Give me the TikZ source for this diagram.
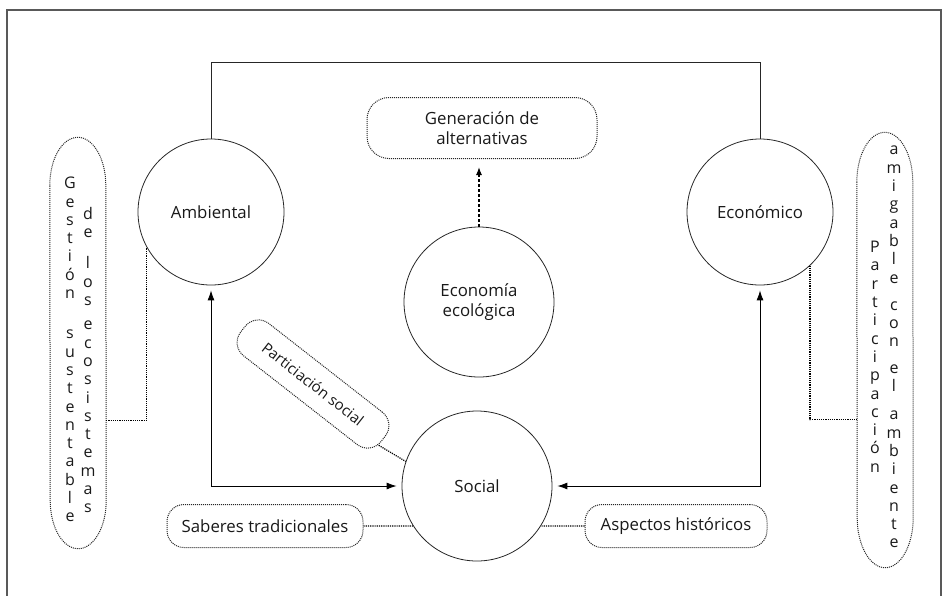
\documentclass[tikz,border=0pt]{standalone}
\usepackage{fontspec}
\setmainfont{Open Sans}
\usetikzlibrary{arrows.meta,shapes.geometric}

\tikzset{
  bubble/.style={circle, draw=black!85, line width=0.8pt, minimum size=146pt, inner sep=0pt, align=center},
  note/.style={draw=black!85, densely dotted, line width=1pt, rounded corners=17pt, inner sep=0pt, align=center},
  tallnote/.style={rectangle, inner sep=0pt, minimum width=56pt},
  outline/.style={draw=black!85, densely dotted, line width=1pt},
  letters/.style={align=center, inner sep=0pt, font=\fontsize{16}{18.3}\selectfont},
  link/.style={densely dotted, line width=1.2pt},
  flow/.style={line width=0.9pt, {Latex[length=10pt,width=7pt]}-{Latex[length=10pt,width=7pt]}, shorten <=5pt, shorten >=5pt},
}

\begin{document}
\begin{tikzpicture}[x=1pt, y=-1pt, font=\fontsize{16.8}{20}\selectfont, text=black!90]
  \useasboundingbox (0,0) rectangle (949,595);
  \draw[black!65, line width=1.3pt] (7,600) -- (7,10) -- (941,10) -- (941,600);

  % circles
  \node[bubble] (amb) at (211,212) {Ambiental};
  \node[bubble] (econ) at (760,212) {Económico};
  \node[bubble, minimum size=150pt] (ecol) at (479,302) {Economía\\ecológica};
  \node[bubble, minimum size=150pt] (soc) at (477,486) {Social};

  % dotted notes
  \node[note, minimum width=230pt, minimum height=61pt, rounded corners=22pt] (gen) at (482,128) {Generación de\\alternativas};
  \node[note, minimum width=196pt, minimum height=43pt] (sab) at (265,526) {Saberes tradicionales};
  \node[note, minimum width=182pt, minimum height=43pt] (asp) at (676,526) {Aspectos históricos};
  \node[note, minimum width=178pt, minimum height=41pt, rotate=-38, font=\fontsize{15}{18}\selectfont] (part) at (313,384) {Particiación social};

  % tall notes, letters stacked
  \node[tallnote, minimum height=411pt] (gest) at (78,343) {};
  \node[tallnote, minimum height=435pt] (amig) at (885,350) {};
  \draw[outline] ([yshift=-48pt]gest.north west) arc[x radius=28pt, y radius=48pt, start angle=180, end angle=0]
    -- ([yshift=48pt]gest.south east) arc[x radius=28pt, y radius=48pt, start angle=0, end angle=-180] -- cycle;
  \draw[outline] ([yshift=-50pt]amig.north west) arc[x radius=28pt, y radius=50pt, start angle=180, end angle=0]
    -- ([yshift=50pt]amig.south east) arc[x radius=28pt, y radius=50pt, start angle=0, end angle=-180] -- cycle;
  \node[letters, anchor=north] (gest1) at (70,177) {G\\e\\s\\t\\i\\ó\\n\\[22pt]s\\u\\s\\t\\e\\n\\t\\a\\b\\l\\e};
  \node[letters, anchor=north] (gest2) at (88,207) {d\\e\\[13pt]l\\o\\s\\[6pt]e\\c\\o\\s\\i\\s\\t\\e\\m\\a\\s};
  \node[letters, anchor=north] (amig1) at (875,241) {P\\a\\r\\t\\i\\c\\i\\p\\a\\c\\i\\ó\\n};
  \node[letters, anchor=north] (amig2) at (894,146) {a\\m\\i\\g\\a\\b\\l\\e\\[9pt]c\\o\\n\\[8pt]e\\l\\[10pt]a\\m\\b\\i\\e\\n\\t\\e};

  % connectors
  \coordinate (top) at (0,62);
  \draw[black!85, line width=0.8pt] (amb.north) -- (amb.north |- top) -- (econ.north |- top) -- (econ.north);
  \draw[flow] (soc.west) -| (amb.south);
  \draw[flow] (soc.east) -| (econ.south);
  \draw[densely dashed, line width=1.2pt, -{Latex[length=8pt,width=6pt]}, shorten >=8pt] (ecol.north) -- (ecol.north |- gen.south);
  \draw[link] (sab.east) -- (soc.212);
  \draw[link] (asp.west) -- (soc.-32);
  \draw[link] (part.-5) -- (soc.161);
  \draw[link] (gest.-70) -| (amb.209);
  \draw[link] (econ.-47) |- (amig.248);
\end{tikzpicture}
\end{document}
